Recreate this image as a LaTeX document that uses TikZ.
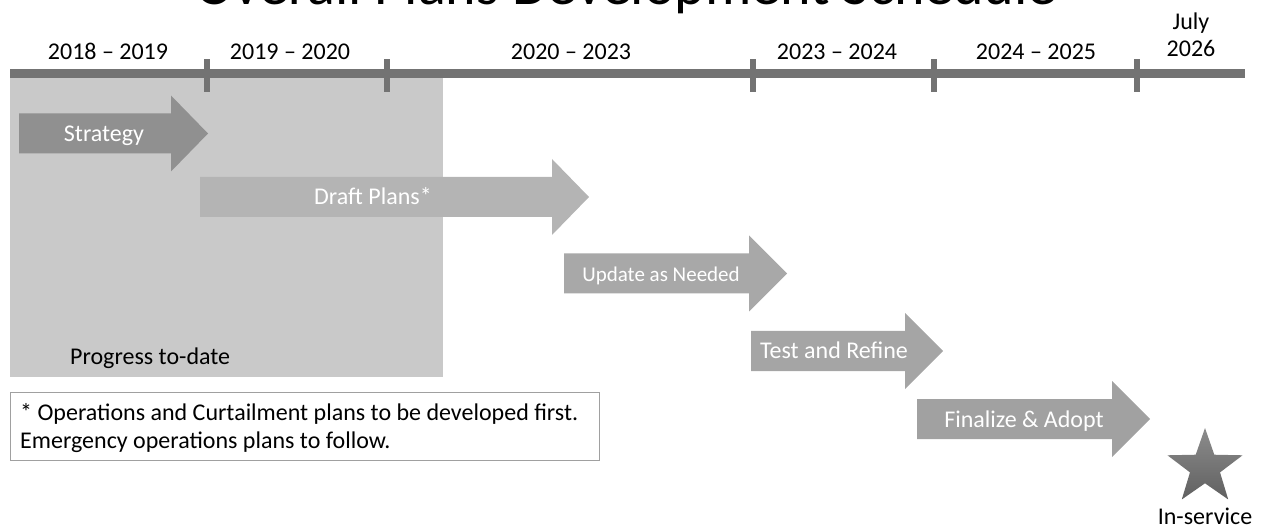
\documentclass[tikz,border=0pt]{standalone}
\usepackage{fontspec}
\setmainfont{Carlito}
\usepackage{tikz}
\usetikzlibrary{shapes.geometric,positioning}
\definecolor{barGray}{RGB}{115,115,115}
\definecolor{doneGray}{RGB}{201,201,201}
\definecolor{stratGray}{RGB}{144,144,144}
\definecolor{draftGray}{RGB}{180,180,180}
\definecolor{updGray}{RGB}{168,168,168}
\definecolor{testGray}{RGB}{165,165,165}
\definecolor{finGray}{RGB}{161,161,161}
\definecolor{noteGray}{RGB}{160,160,160}
\definecolor{starTop}{RGB}{140,140,140}
\definecolor{starBottom}{RGB}{96,96,96}
\newcommand\pxfont[2]{\fontsize{#1}{#2}\selectfont}

\begin{document}
\begin{tikzpicture}[x=1pt,y=-1pt,
    task/.style={anchor=base,text=white,inner sep=0pt,font=\pxfont{24}{29}},
    year/.style={anchor=base,inner sep=0pt,font=\pxfont{24}{27}}]

      \useasboundingbox (0,0) rectangle (1261,529);

      \def\ticks{207,387,753,934,1137}
      \def\years{108/{2018 -- 2019},290/{2019 -- 2020},571/{2020 -- 2023},837/{2023 -- 2024},1036/{2024 -- 2025}}
      \def\tasks{19/171/208/133.5/104/stratGray/{Strategy},
        200/552/589/197/373/draftGray/{Draft Plans*},
        564/749/787/273.5/661/updGray/{\pxfont{21}{25}Update as Needed},
        751/905/943/351/834/testGray/{Test and Refine},
        917/1112/1150/419/1024/finGray/{Finalize \& Adopt}}

      % the title, cut by the page
      \node[anchor=base,inner sep=0pt,font=\pxfont{58}{70}] (title) at (626,5) {Overall Plans Development Schedule};

      % draw the progress area
      \fill[doneGray] (10,77) rectangle (443,377);
      \node[anchor=base west,inner sep=0pt,font=\pxfont{24}{29}] (progress) at (70,364) {Progress to-date};

      % draw the time line and its ticks
      \fill[barGray] (10,69) rectangle (1245,78);
      \foreach \x in \ticks
      \fill[barGray] (\x-3,59) rectangle (\x+3,92);

      % label the years
      \foreach \x/\y [count=\ni] in \years
      \node[year] (year\ni) at (\x,60) {\y};
      \node[year,align=center] (july) at (1191,57) {July\\2026};

      % draw the task arrows
      \foreach \xa/\xb/\xc/\yc/\xt/\col/\name [count=\ni] in \tasks
      {
        \fill[\col] (\xa,\yc-20) -- (\xb,\yc-20) -- (\xb,\yc-38) -- (\xc,\yc)
          -- (\xb,\yc+38) -- (\xb,\yc+20) -- (\xa,\yc+20) -- cycle;
        \node[task] (task\ni) at (\xt,\yc+8) {\name};
      }

      % the footnote box
      \node[draw=noteGray,line width=1pt,anchor=north west,inner sep=0pt,
        minimum width=589pt,minimum height=68pt] (note) at (10,392) {};
      \node[anchor=base west,inner sep=0pt,align=left,font=\pxfont{24}{28}] (notetext) at (20,448)
        {* Operations and Curtailment plans to be developed first.\\Emergency operations plans to follow.};

      % the in-service star
      \node[star,star points=5,star point ratio=2.5,minimum size=79pt,inner sep=0pt,
        top color=starTop,bottom color=starBottom] (goal) at (1205,467.5) {};
      \node[anchor=base,inner sep=0pt,font=\pxfont{24}{29}] (inservice) at (1205,524) {In-service};

    \end{tikzpicture}
\end{document}
